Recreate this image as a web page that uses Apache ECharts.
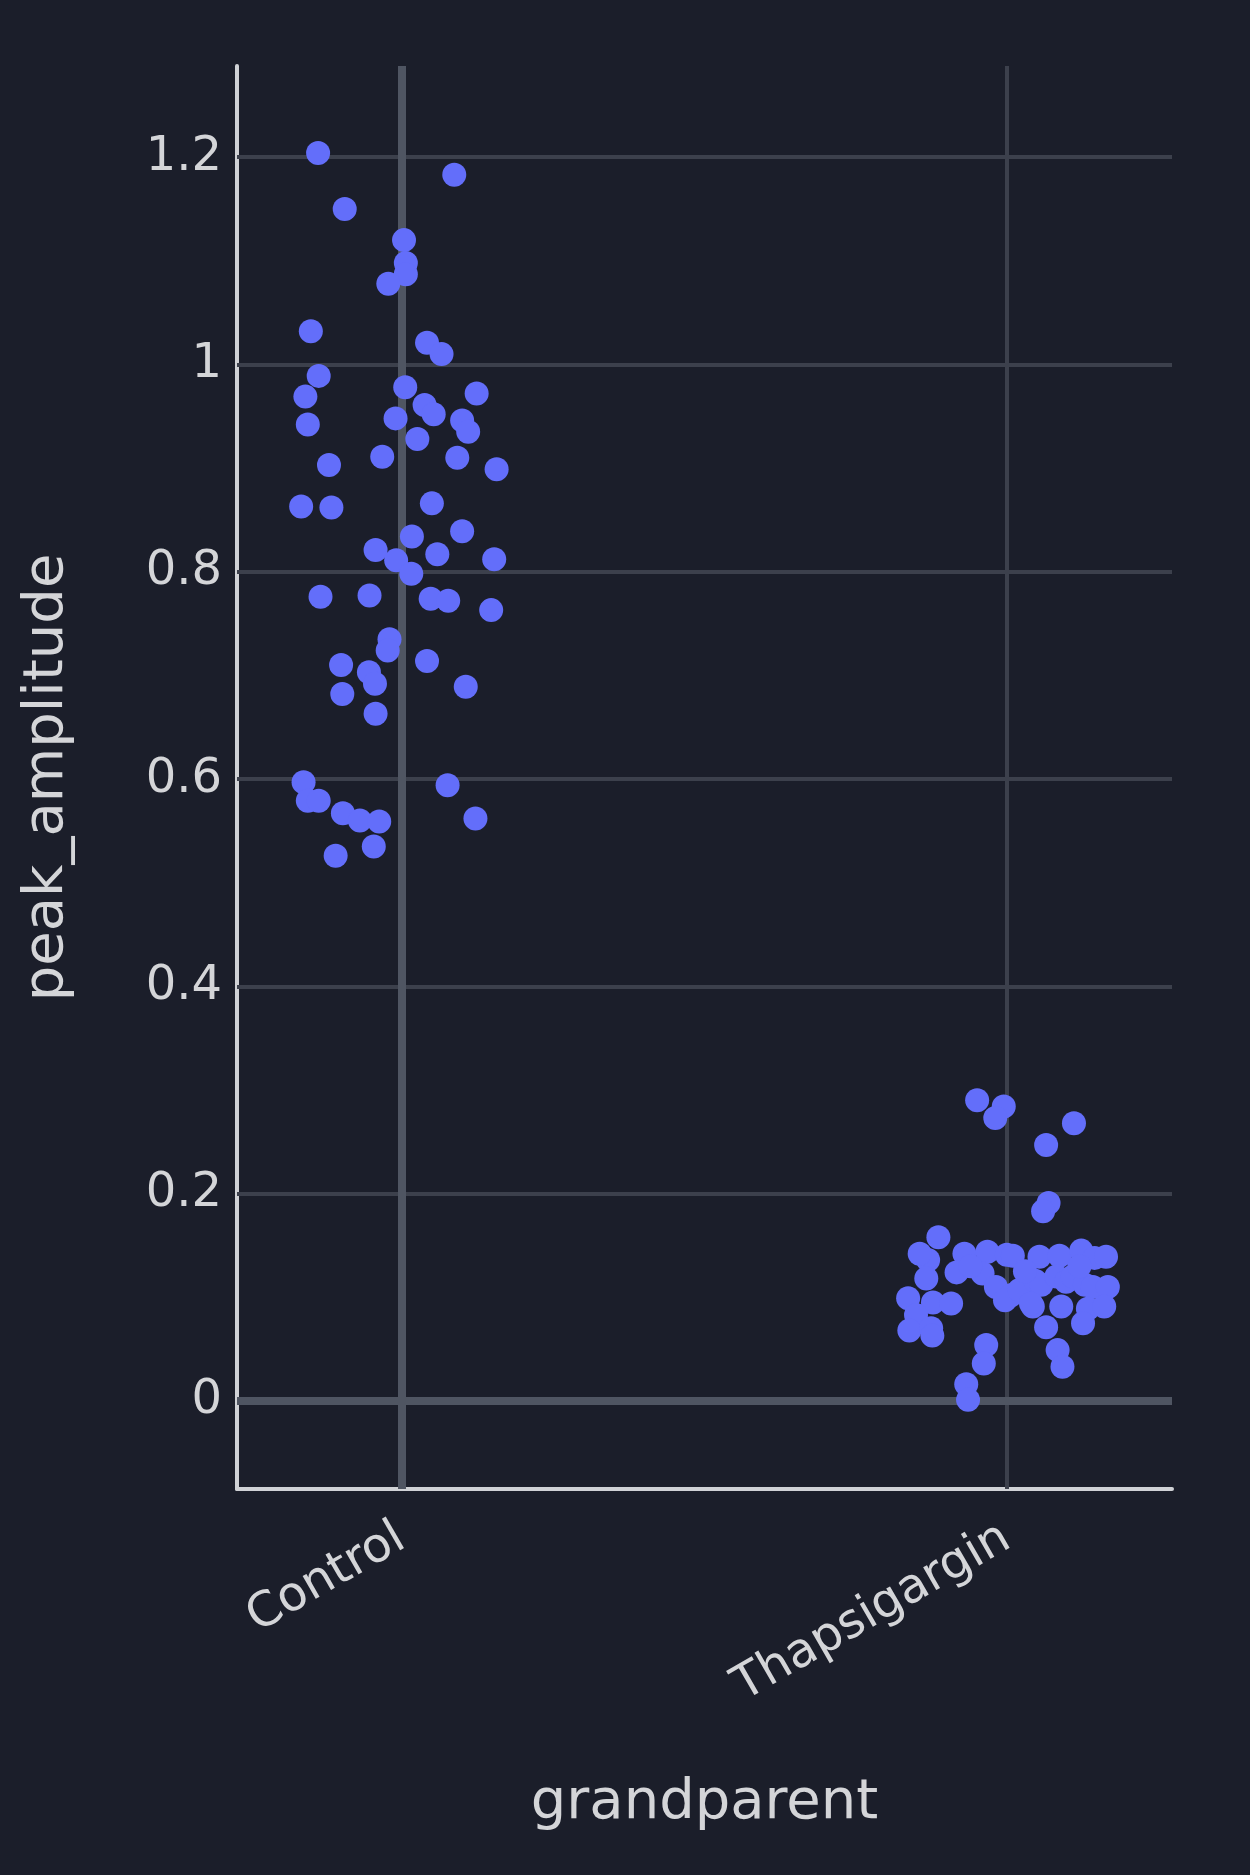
<!DOCTYPE html>
<html><head><meta charset="utf-8">
<script src="https://cdn.jsdelivr.net/npm/echarts@6/dist/echarts.min.js"></script>
<style>html,body{margin:0;padding:0;background:#1b1e2a;} #c{width:1250px;height:1875px;}</style>
</head><body><div id="c"></div><script>
const categories = ['Control', 'Thapsigargin'];
const yTickValues = [0, 0.2, 0.4, 0.6, 0.8, 1, 1.2];
const yTickLabels = ['0', '0.2', '0.4', '0.6', '0.8', '1', '1.2'];

// Control group: horizontal jitter (category units) and peak_amplitude
const controlJitter = [-0.138, 0.087, -0.094, 0.004, 0.007, 0.007, -0.022, -0.150, 0.042, 0.066,
  -0.137, -0.159, 0.006, 0.124, -0.155, 0.038, 0.053, -0.010, 0.100, 0.110,
  0.026, -0.032, 0.092, -0.120, 0.157, -0.166, -0.116, 0.050, 0.017, 0.100,
  -0.043, -0.009, 0.059, 0.153, 0.016, -0.134, -0.053, 0.048, 0.077, 0.148,
  -0.020, -0.023, 0.042, -0.100, -0.054, -0.044, 0.106, -0.098, -0.043, -0.162,
  0.076, -0.155, -0.137, -0.097, -0.069, -0.037, 0.122, -0.046, -0.109];
const controlValues = [1.204, 1.183, 1.150, 1.120, 1.098, 1.087, 1.078, 1.032, 1.021, 1.010,
  0.989, 0.969, 0.978, 0.972, 0.942, 0.961, 0.952, 0.948, 0.946, 0.935,
  0.928, 0.911, 0.910, 0.903, 0.899, 0.863, 0.862, 0.866, 0.834, 0.839,
  0.821, 0.811, 0.817, 0.812, 0.798, 0.776, 0.777, 0.774, 0.772, 0.763,
  0.735, 0.724, 0.714, 0.710, 0.703, 0.692, 0.689, 0.682, 0.663, 0.597,
  0.594, 0.579, 0.579, 0.567, 0.560, 0.559, 0.562, 0.535, 0.526];

// Thapsigargin group
const thapsJitter = [-0.113, -0.049, -0.005, -0.019, 0.111, 0.065, 0.069, 0.060,
  -0.130, -0.144, -0.070, -0.032, 0.000, 0.010, 0.054, 0.087, 0.123, 0.145, 0.164,
  -0.133, -0.083, -0.040, -0.018, 0.007, -0.003, 0.021, 0.047, 0.057, 0.082, 0.098, 0.109, 0.129, 0.142, 0.167, 0.120,
  -0.163, -0.122, -0.092, -0.150, -0.161, -0.125, -0.123, 0.043, 0.040, 0.090, 0.134, 0.161, 0.065, 0.126,
  -0.034, -0.038, -0.067, -0.064, 0.084, 0.092, -0.060, 0.030];
const thapsValues = [0.158, 0.290, 0.284, 0.273, 0.268, 0.247, 0.191, 0.183,
  0.136, 0.142, 0.142, 0.144, 0.141, 0.140, 0.139, 0.140, 0.145, 0.138, 0.139,
  0.118, 0.124, 0.123, 0.110, 0.102, 0.097, 0.107, 0.116, 0.112, 0.120, 0.115, 0.120, 0.112, 0.110, 0.110, 0.130,
  0.099, 0.095, 0.094, 0.083, 0.068, 0.070, 0.063, 0.091, 0.094, 0.091, 0.089, 0.091, 0.071, 0.075,
  0.054, 0.036, 0.016, 0.001, 0.049, 0.033, 0.130, 0.125];

const xRange = [-0.272, 1.273];
const yRange = [-0.085, 1.288];

const textColor = '#d4d5d8';
const gridColor = '#3c404c';
const zeroColor = '#4f5562';
const fontFamily = '"DejaVu Sans", Verdana, sans-serif';

const pts = (jit, vals, idx) => vals.map((v, i) => [idx + jit[i], v]);

const chart = echarts.init(document.getElementById('c'), null, {renderer: 'canvas'});
chart.setOption({
  backgroundColor: '#1b1e2a',
  animation: false,
  textStyle: {fontFamily: fontFamily},
  grid: {left: 237, right: 78, top: 66, bottom: 386},
  xAxis: {
    type: 'value', min: xRange[0], max: xRange[1],
    name: 'grandparent', nameLocation: 'middle', nameGap: 286,
    nameTextStyle: {color: textColor, fontSize: 56, fontFamily: fontFamily},
    axisLine: {show: true, onZero: false, lineStyle: {color: '#d0d2d6', width: 4}},
    axisTick: {show: false},
    splitLine: {show: false},
    axisLabel: {
      show: true, customValues: [0, 1], rotate: 30, margin: 46,
      color: textColor, fontSize: 48, fontFamily: fontFamily,
      formatter: v => categories[Math.round(v)]
    }
  },
  yAxis: {
    type: 'value', min: yRange[0], max: yRange[1],
    name: 'peak_amplitude', nameLocation: 'middle', nameGap: 162, nameRotate: 90,
    nameTextStyle: {color: textColor, fontSize: 56, fontFamily: fontFamily},
    axisLine: {show: true, onZero: false, lineStyle: {color: '#d0d2d6', width: 4}},
    axisTick: {show: false},
    splitLine: {show: false},
    axisLabel: {
      show: true, customValues: yTickValues, margin: 15,
      color: textColor, fontSize: 48, fontFamily: fontFamily,
      formatter: v => yTickLabels[yTickValues.findIndex(t => Math.abs(t - v) < 1e-6)]
    }
  },
  series: [
    {
      type: 'scatter', data: [], silent: true, z: 1,
      markLine: {
        silent: true, symbol: ['none', 'none'], label: {show: false}, animation: false, z: 1,
        emphasis: {disabled: true},
        data: [
          ...yTickValues.filter(v => v !== 0).map(v => ({yAxis: v, lineStyle: {color: gridColor, width: 4, type: 'solid'}})),
          {xAxis: 1, lineStyle: {color: gridColor, width: 4, type: 'solid'}},
          {yAxis: 0, lineStyle: {color: zeroColor, width: 8, type: 'solid'}},
          {xAxis: 0, lineStyle: {color: zeroColor, width: 8, type: 'solid'}}
        ]
      }
    },
    {
      name: 'Control', type: 'scatter', z: 10, symbolSize: 24,
      itemStyle: {color: '#636efa', opacity: 1},
      data: pts(controlJitter, controlValues, 0)
    },
    {
      name: 'Thapsigargin', type: 'scatter', z: 10, symbolSize: 24,
      itemStyle: {color: '#636efa', opacity: 1},
      data: pts(thapsJitter, thapsValues, 1)
    }
  ]
});
</script></body></html>
